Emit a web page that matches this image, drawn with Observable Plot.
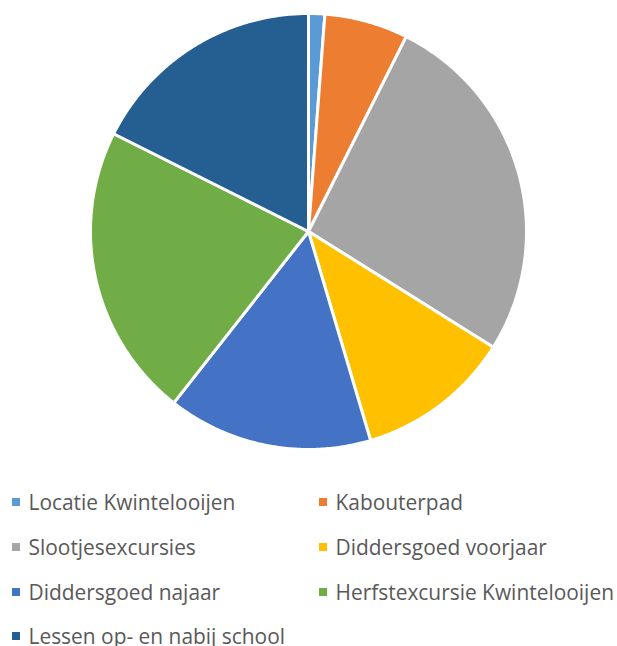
<!DOCTYPE html>
<html>
<head>
<meta charset="utf-8">
<script src="https://cdn.jsdelivr.net/npm/d3@7"></script>
<script src="https://cdn.jsdelivr.net/npm/@observablehq/plot@0.6"></script>
<style>
  html, body { margin: 0; padding: 0; background: #fff; }
  #page { position: relative; width: 617px; height: 646px; overflow: hidden; }
  #chart { position: absolute; left: 0; top: 0; }
  .item { position: absolute; display: flex; align-items: center; white-space: nowrap;
          font-family: "Open Sans", sans-serif; color: #595959; }
  .sw { width: 8px; height: 8px; margin-right: 8.5px; flex: none; }
</style>
</head>
<body>
<div id="page"><div id="chart"></div></div>
<script>
// Data (percent of total)
const categories = [
  "Locatie Kwintelooijen",
  "Kabouterpad",
  "Slootjesexcursies",
  "Diddersgoed voorjaar",
  "Diddersgoed najaar",
  "Herfstexcursie Kwintelooijen",
  "Lessen op- en nabij school"
];
const values = [1.2, 6.2, 26.5, 11.5, 15.2, 21.8, 17.6];
const colors = ["#5B9BD5", "#ED7D31", "#A5A5A5", "#FFC000", "#4472C4", "#70AD47", "#255E91"];

const data = categories.map((c, i) => ({category: c, value: values[i]}));
const arcs = d3.pie().sort(null).value(d => d.value)(data);

// Build slice outlines in unit coordinates (0 rad = 12 o'clock, clockwise)
const rows = [];
for (const a of arcs) {
  const cat = a.data.category;
  rows.push({category: cat, x: 0, y: 0});
  const steps = Math.max(2, Math.ceil((a.endAngle - a.startAngle) / 0.01));
  for (let k = 0; k <= steps; k++) {
    const t = a.startAngle + (a.endAngle - a.startAngle) * k / steps;
    rows.push({category: cat, x: Math.sin(t), y: Math.cos(t)});
  }
  rows.push({category: cat, x: 0, y: 0});
}

const cx = 308, cy = 231, r = 218;
const plot = Plot.plot({
  width: 617,
  height: 470,
  margin: 0,
  x: {domain: [-1, 1], range: [cx - r, cx + r], axis: null},
  y: {domain: [-1, 1], range: [cy + r, cy - r], axis: null},
  color: {domain: categories, range: colors},
  marks: [
    Plot.line(rows, {
      x: "x", y: "y", z: "category",
      fill: "category", stroke: "white",
      strokeWidth: 3, strokeLinejoin: "round", curve: "linear"
    })
  ]
});
document.getElementById("chart").appendChild(plot);

// Legend (HTML below the SVG area)
const ctx = document.createElement("canvas").getContext("2d");
ctx.font = '20px "Open Sans"';
const w = ctx.measureText(categories[0]).width;
const fontSize = Math.max(16, Math.min(24, 20 * 207 / w));

const colX = [12, 319];
const rowY = [502, 547, 592, 636];
const page = document.getElementById("page");
categories.forEach((c, i) => {
  const col = i % 2, row = Math.floor(i / 2);
  const div = document.createElement("div");
  div.className = "item";
  div.style.left = colX[col] + "px";
  div.style.top = (rowY[row] - 15) + "px";
  div.style.height = "30px";
  div.style.fontSize = fontSize + "px";
  const sw = document.createElement("span");
  sw.className = "sw";
  sw.style.background = colors[i];
  const tx = document.createElement("span");
  tx.textContent = c;
  div.appendChild(sw);
  div.appendChild(tx);
  page.appendChild(div);
});
</script>
</body>
</html>
